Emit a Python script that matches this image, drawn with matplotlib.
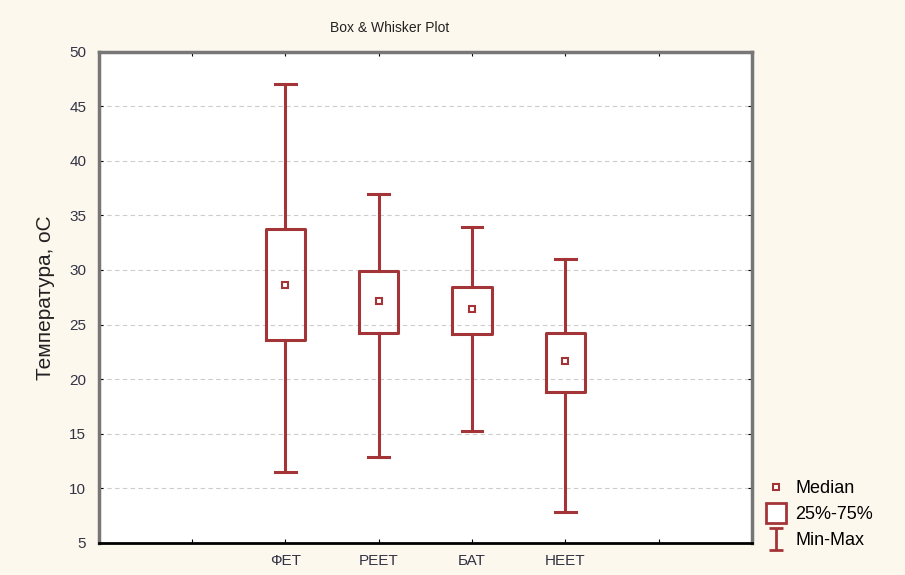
import numpy as np
import matplotlib.pyplot as plt
from matplotlib.lines import Line2D
from matplotlib.path import Path

plt.rcParams['font.family'] = ['Liberation Sans', 'DejaVu Sans']

groups = ["ФЕТ", "РЕЕТ", "БАТ", "НЕЕТ"]
medians = [28.6, 27.2, 26.4, 21.7]
q1 = [23.6, 24.2, 24.1, 18.8]
q3 = [33.8, 29.9, 28.4, 24.2]
mins = [11.5, 12.9, 15.2, 7.8]
maxs = [47.0, 37.0, 33.9, 31.0]

col = '#a33539'

fig = plt.figure(figsize=(9.05, 5.75), dpi=100)
fig.patch.set_facecolor('#fdf8ee')
ax = fig.add_axes([0.109, 0.056, 0.722, 0.854])
ax.set_facecolor('white')

stats = []
for i in range(len(groups)):
    stats.append(dict(med=medians[i], q1=q1[i], q3=q3[i], whislo=mins[i],
                      whishi=maxs[i], mean=medians[i], label=groups[i]))

pos = [2, 3, 4, 5]
ax.bxp(stats, positions=pos, widths=0.42, capwidths=0.22, showmeans=True,
       showfliers=False,
       boxprops=dict(color=col, linewidth=2.2),
       whiskerprops=dict(color=col, linewidth=2.2),
       capprops=dict(color=col, linewidth=2.2),
       medianprops=dict(linewidth=0),
       meanprops=dict(marker='s', markerfacecolor='white', markeredgecolor=col,
                      markersize=5, markeredgewidth=1.5))

ax.set_xlim(0, 7)
ax.set_ylim(5, 50)
ax.set_xticks([1, 2, 3, 4, 5, 6])
ax.set_xticklabels(["", "ФЕТ", "РЕЕТ", "БАТ", "НЕЕТ", ""], fontsize=11, color='#333344')
ax.set_yticks(np.arange(5, 51, 5))
ax.tick_params(axis='y', labelsize=11, labelcolor='#333344', direction='in', length=3, pad=9)
ax.tick_params(axis='x', direction='in', length=3, pad=8)
ax.tick_params(right=True, top=True, which='both', direction='in')
ax.grid(axis='y', linestyle=(0, (4, 3)), color='#cccccc', linewidth=0.8)
ax.set_axisbelow(True)

for s in ['left', 'right', 'top']:
    ax.spines[s].set_color('#777777')
    ax.spines[s].set_linewidth(2.5)
ax.spines['bottom'].set_color('black')
ax.spines['bottom'].set_linewidth(2)

ax.set_ylabel("Температура, оС", fontsize=15, color='#222222', labelpad=10)
fig.text(0.43, 0.945, "Box & Whisker Plot", fontsize=10, ha='center', color='#222222')

ibar = Path([(-0.6, 1), (0.6, 1), (0, 1), (0, -1), (-0.6, -1), (0.6, -1)],
            [Path.MOVETO, Path.LINETO, Path.MOVETO, Path.LINETO, Path.MOVETO, Path.LINETO])
handles = [
    Line2D([], [], linestyle='none', marker='s', markersize=5, markerfacecolor='white',
           markeredgecolor=col, markeredgewidth=1.5),
    Line2D([], [], linestyle='none', marker='s', markersize=15, markerfacecolor='white',
           markeredgecolor=col, markeredgewidth=2),
    Line2D([], [], linestyle='none', marker=ibar, markersize=16, markerfacecolor='none',
           markeredgecolor=col, markeredgewidth=2),
]
fig.legend(handles, ["Median", "25%-75%", "Min-Max"], loc='lower left',
           bbox_to_anchor=(0.835, 0.026), frameon=False, fontsize=13,
           handlelength=1.0, handletextpad=0.6, labelspacing=0.5, borderpad=0.1)

plt.savefig("out.png", facecolor=fig.get_facecolor())
